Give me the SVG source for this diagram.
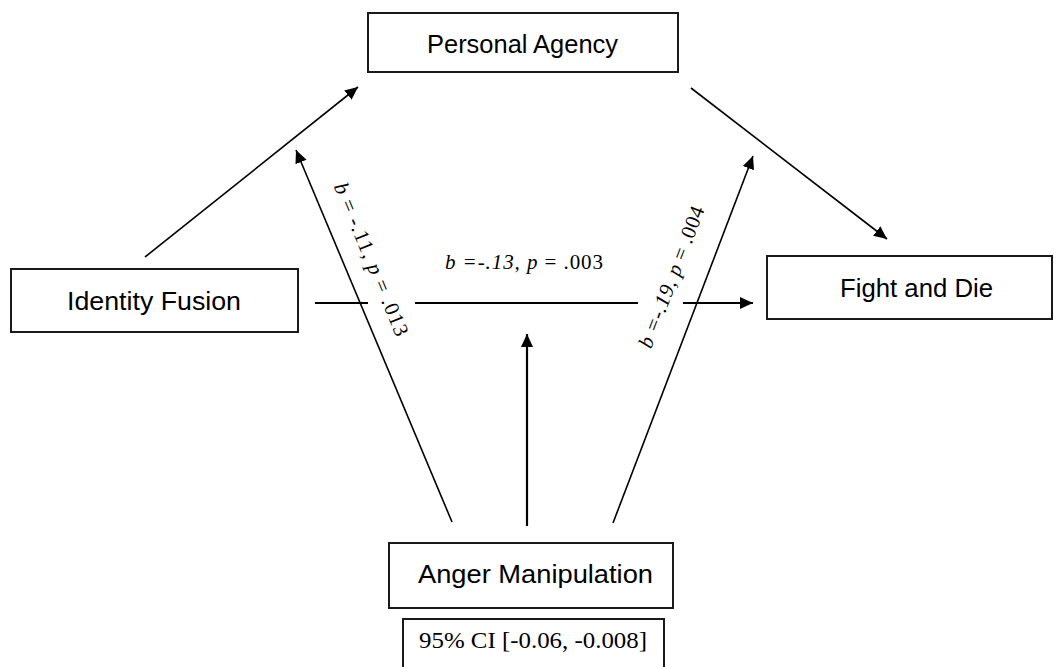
<svg xmlns="http://www.w3.org/2000/svg" width="1054" height="667" viewBox="0 0 1054 667">
<style>
.box{fill:#fff;stroke:#1a1a1a;stroke-width:2}
.lbl{font-family:"Liberation Sans",Arial,sans-serif;font-size:25px;fill:#000;text-anchor:middle}
.stat{font-family:"Liberation Serif","Times New Roman",serif;font-size:21px;fill:#000}
.ci{font-family:"Liberation Serif","Times New Roman",serif;font-size:24px;fill:#000;text-anchor:middle}
.ln{stroke:#000;stroke-width:1.6;fill:none}
.thick{stroke:#000;stroke-width:2.2;fill:none}
</style>
<defs>
<marker id="ah" markerUnits="userSpaceOnUse" markerWidth="14" markerHeight="13" refX="13" refY="6" orient="auto">
<path d="M0,0 L13,6 L0,12 z" fill="#000"/>
</marker>
</defs>
<rect width="1054" height="667" fill="#fff"/>
<g id="connectors">
<line class="ln" x1="145" y1="257" x2="358" y2="87" marker-end="url(#ah)"/>
<line class="ln" x1="691" y1="88" x2="887" y2="239" marker-end="url(#ah)"/>
<line class="ln" x1="452" y1="522" x2="296" y2="150" marker-end="url(#ah)"/>
<line class="ln" x1="613" y1="523" x2="753" y2="156" marker-end="url(#ah)"/>
<line class="thick" x1="527" y1="526" x2="527" y2="334" marker-end="url(#ah)"/>
<line class="thick" x1="315" y1="303" x2="368" y2="303"/>
<line class="thick" x1="415" y1="303" x2="638" y2="303"/>
<line class="thick" x1="683" y1="303" x2="753" y2="303" marker-end="url(#ah)"/>
<text class="stat" x="445" y="269" textLength="158" lengthAdjust="spacing"><tspan font-style="italic">b =-.13, p</tspan> = .003</text>
<text class="stat" transform="translate(365,262) rotate(67.5)" text-anchor="middle" textLength="164" lengthAdjust="spacing"><tspan font-style="italic">b</tspan> = -.11, <tspan font-style="italic">p</tspan> = .013</text>
<text class="stat" transform="translate(678,279.5) rotate(-69)" text-anchor="middle" textLength="150" lengthAdjust="spacing"><tspan font-style="italic">b =-.19, p</tspan> = .004</text>
</g>
<g id="personal-agency">
<rect class="box" x="368" y="13" width="310" height="59"/>
<text class="lbl" x="522.5" y="53" textLength="191" lengthAdjust="spacingAndGlyphs">Personal Agency</text>
</g>
<g id="identity-fusion">
<rect class="box" x="11" y="269" width="287" height="63"/>
<text class="lbl" x="154" y="310" textLength="174" lengthAdjust="spacingAndGlyphs">Identity Fusion</text>
</g>
<g id="fight-and-die">
<rect class="box" x="767" y="256" width="285" height="63"/>
<text class="lbl" x="916.5" y="297" textLength="153" lengthAdjust="spacingAndGlyphs">Fight and Die</text>
</g>
<g id="anger-manipulation">
<rect class="box" x="389" y="543" width="284" height="65"/>
<text class="lbl" x="535.5" y="583" textLength="235" lengthAdjust="spacingAndGlyphs">Anger Manipulation</text>
</g>
<g id="ci">
<rect class="box" x="403" y="619" width="261" height="70"/>
<text class="ci" x="533" y="648" textLength="228" lengthAdjust="spacingAndGlyphs">95% CI [-0.06, -0.008]</text>
</g>
</svg>
